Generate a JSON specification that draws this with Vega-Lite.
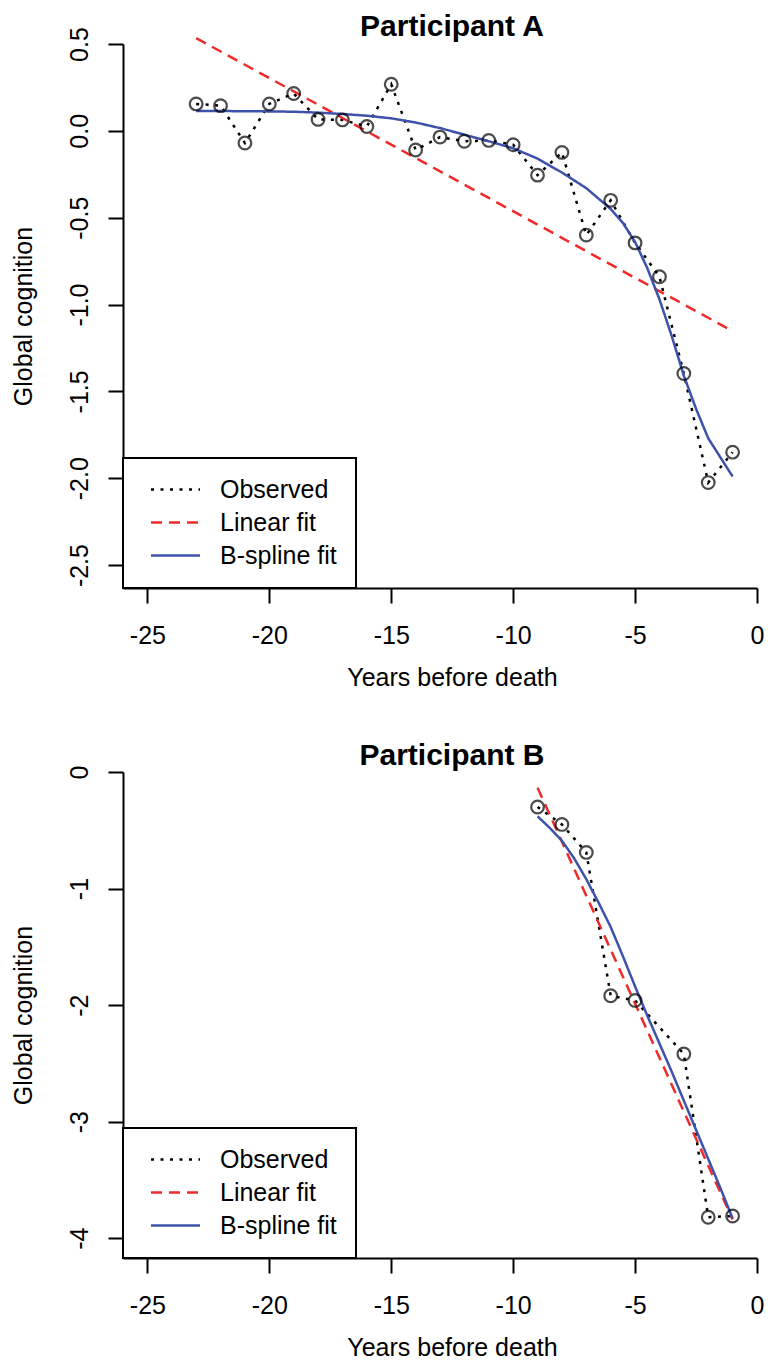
{
  "$schema": "https://vega.github.io/schema/vega-lite/v6.json",
  "background": "white",
  "padding": {"left": 11, "top": 11, "right": 0, "bottom": 0},
  "config": {
    "font": "Liberation Sans",
    "view": {"stroke": null},
    "axis": {
      "domainColor": "black", "domainWidth": 2, "tickColor": "black", "tickWidth": 2, "tickSize": 15,
      "labelFontSize": 25, "titleFontSize": 25, "labelColor": "black", "titleColor": "black",
      "titleFontWeight": "normal", "grid": false, "labelFont": "Liberation Sans", "titleFont": "Liberation Sans",
      "labelOverlap": false, "labelFlush": false
    },
    "title": {"fontSize": 30, "font": "Liberation Sans", "fontWeight": "bold", "color": "black", "baseline": "alphabetic", "anchor": "middle", "frame": "group"},
    "legend": {
      "orient": "bottom-left", "offset": 0, "padding": 19, "rowPadding": 7,
      "strokeColor": "black", "strokeWidth": 2, "fillColor": "white",
      "symbolType": "M-4,0H4", "symbolSize": 150, "symbolStrokeWidth": 2.5, "symbolOffset": 21,
      "labelFontSize": 25, "labelFont": "Liberation Sans", "labelColor": "black", "labelOffset": 32,
      "labelBaseline": "middle", "titleFontSize": 0
    }
  },
  "datasets": {
    "A": [
      {"series": "Observed", "year": -23, "value": 0.155},
      {"series": "Observed", "year": -22, "value": 0.145},
      {"series": "Observed", "year": -21, "value": -0.07},
      {"series": "Observed", "year": -20, "value": 0.155},
      {"series": "Observed", "year": -19, "value": 0.215},
      {"series": "Observed", "year": -18, "value": 0.066},
      {"series": "Observed", "year": -17, "value": 0.063},
      {"series": "Observed", "year": -16, "value": 0.025},
      {"series": "Observed", "year": -15, "value": 0.268},
      {"series": "Observed", "year": -14, "value": -0.11},
      {"series": "Observed", "year": -13, "value": -0.036},
      {"series": "Observed", "year": -12, "value": -0.06},
      {"series": "Observed", "year": -11, "value": -0.055},
      {"series": "Observed", "year": -10, "value": -0.08},
      {"series": "Observed", "year": -9, "value": -0.255},
      {"series": "Observed", "year": -8, "value": -0.124},
      {"series": "Observed", "year": -7, "value": -0.6},
      {"series": "Observed", "year": -6, "value": -0.4},
      {"series": "Observed", "year": -5, "value": -0.645},
      {"series": "Observed", "year": -4, "value": -0.84},
      {"series": "Observed", "year": -3, "value": -1.397},
      {"series": "Observed", "year": -2, "value": -2.025},
      {"series": "Observed", "year": -1, "value": -1.85},
      {"series": "Linear fit", "year": -23, "value": 0.534},
      {"series": "Linear fit", "year": -1, "value": -1.153},
      {"series": "B-spline fit", "year": -23, "value": 0.114},
      {"series": "B-spline fit", "year": -22, "value": 0.114},
      {"series": "B-spline fit", "year": -21, "value": 0.113},
      {"series": "B-spline fit", "year": -20, "value": 0.112},
      {"series": "B-spline fit", "year": -19, "value": 0.11},
      {"series": "B-spline fit", "year": -18, "value": 0.105},
      {"series": "B-spline fit", "year": -17, "value": 0.097},
      {"series": "B-spline fit", "year": -16, "value": 0.087},
      {"series": "B-spline fit", "year": -15, "value": 0.072},
      {"series": "B-spline fit", "year": -14, "value": 0.048},
      {"series": "B-spline fit", "year": -13, "value": 0.016},
      {"series": "B-spline fit", "year": -12, "value": -0.022},
      {"series": "B-spline fit", "year": -11, "value": -0.06},
      {"series": "B-spline fit", "year": -10, "value": -0.1},
      {"series": "B-spline fit", "year": -9, "value": -0.16},
      {"series": "B-spline fit", "year": -8, "value": -0.24},
      {"series": "B-spline fit", "year": -7, "value": -0.33},
      {"series": "B-spline fit", "year": -6, "value": -0.45},
      {"series": "B-spline fit", "year": -5.5, "value": -0.53},
      {"series": "B-spline fit", "year": -5, "value": -0.64},
      {"series": "B-spline fit", "year": -4.5, "value": -0.79},
      {"series": "B-spline fit", "year": -4, "value": -0.97},
      {"series": "B-spline fit", "year": -3.5, "value": -1.18},
      {"series": "B-spline fit", "year": -3, "value": -1.41},
      {"series": "B-spline fit", "year": -2.5, "value": -1.6},
      {"series": "B-spline fit", "year": -2, "value": -1.77},
      {"series": "B-spline fit", "year": -1.5, "value": -1.88},
      {"series": "B-spline fit", "year": -1, "value": -1.99}
    ],
    "B": [
      {"series": "Observed", "year": -9, "value": -0.3},
      {"series": "Observed", "year": -8, "value": -0.45},
      {"series": "Observed", "year": -7, "value": -0.69},
      {"series": "Observed", "year": -6, "value": -1.92},
      {"series": "Observed", "year": -5, "value": -1.96},
      {"series": "Observed", "year": -3, "value": -2.42},
      {"series": "Observed", "year": -2, "value": -3.82},
      {"series": "Observed", "year": -1, "value": -3.81},
      {"series": "Linear fit", "year": -9, "value": -0.135},
      {"series": "Linear fit", "year": -1, "value": -3.84},
      {"series": "B-spline fit", "year": -9, "value": -0.38},
      {"series": "B-spline fit", "year": -8.5, "value": -0.48},
      {"series": "B-spline fit", "year": -8, "value": -0.59},
      {"series": "B-spline fit", "year": -7.5, "value": -0.74},
      {"series": "B-spline fit", "year": -7, "value": -0.92},
      {"series": "B-spline fit", "year": -6.5, "value": -1.12},
      {"series": "B-spline fit", "year": -6, "value": -1.33},
      {"series": "B-spline fit", "year": -5.5, "value": -1.58},
      {"series": "B-spline fit", "year": -5, "value": -1.84},
      {"series": "B-spline fit", "year": -4.5, "value": -2.09},
      {"series": "B-spline fit", "year": -4, "value": -2.33},
      {"series": "B-spline fit", "year": -3.5, "value": -2.57},
      {"series": "B-spline fit", "year": -3, "value": -2.82},
      {"series": "B-spline fit", "year": -2.5, "value": -3.07},
      {"series": "B-spline fit", "year": -2, "value": -3.32},
      {"series": "B-spline fit", "year": -1.5, "value": -3.57},
      {"series": "B-spline fit", "year": -1, "value": -3.83}
    ]
  },
  "bounds": "flush",
  "spacing": 184,
  "resolve": {
    "scale": {"x": "independent", "y": "independent", "color": "independent", "strokeDash": "independent"},
    "legend": {"color": "independent", "strokeDash": "independent"}
  },
  "vconcat": [
    {
      "width": 634,
      "height": 544,
      "title": {"text": "Participant A", "offset": 9, "dx": 12, "dy": 24},
      "data": {"name": "A"},
      "layer": [
        {
          "mark": {"type": "line", "strokeWidth": 2.5, "strokeCap": "butt"},
          "encoding": {
            "x": {"field": "year", "type": "quantitative",
              "scale": {"domain": [-26, 0], "nice": false, "zero": false},
              "axis": {"values": [-25, -20, -15, -10, -5, 0],
                "labelExpr": "datum.value < 0 ? '-' + format(-datum.value, 'd') : format(datum.value, 'd')",
                "labelBaseline": "alphabetic", "labelPadding": 40,
                "title": "Years before death", "titleX": 329, "titleY": 97, "titleBaseline": "alphabetic", "titleAlign": "center", "titleAngle": 0}},
            "y": {"field": "value", "type": "quantitative",
              "scale": {"domain": [-2.632, 0.5], "nice": false, "zero": false},
              "axis": {"values": [0.5, 0, -0.5, -1, -1.5, -2, -2.5],
                "labelExpr": "datum.value < 0 ? '-' + format(-datum.value, '.1f') : format(datum.value, '.1f')",
                "labelAngle": -90, "labelAlign": "center", "labelBaseline": "alphabetic", "labelPadding": 21,
                "title": "Global cognition", "titleX": -92, "titleY": 272, "titleAngle": -90, "titleAlign": "center", "titleBaseline": "alphabetic"}},
            "color": {"field": "series", "type": "nominal",
              "scale": {"domain": ["Observed", "Linear fit", "B-spline fit"], "range": ["#000000", "#ee2a2a", "#3d52ab"]},
              "legend": {"title": null}},
            "strokeDash": {"field": "series", "type": "nominal",
              "scale": {"domain": ["Observed", "Linear fit", "B-spline fit"], "range": [[3, 6.5], [11, 7], [1, 0]]},
              "legend": {"title": null}}
          }
        },
        {
          "transform": [{"filter": "datum.series === 'Observed'"}],
          "mark": {"type": "point", "shape": "circle", "filled": false, "color": "black", "strokeWidth": 2.2, "size": 160},
          "encoding": {
            "x": {"field": "year", "type": "quantitative"},
            "y": {"field": "value", "type": "quantitative"}
          }
        }
      ]
    },
    {
      "width": 634,
      "height": 486,
      "title": {"text": "Participant B", "offset": 5, "dx": 12, "dy": 11},
      "data": {"name": "B"},
      "layer": [
        {
          "mark": {"type": "line", "strokeWidth": 2.5, "strokeCap": "butt"},
          "encoding": {
            "x": {"field": "year", "type": "quantitative",
              "scale": {"domain": [-26, 0], "nice": false, "zero": false},
              "axis": {"values": [-25, -20, -15, -10, -5, 0],
                "labelExpr": "datum.value < 0 ? '-' + format(-datum.value, 'd') : format(datum.value, 'd')",
                "labelBaseline": "alphabetic", "labelPadding": 40,
                "title": "Years before death", "titleX": 329, "titleY": 97, "titleBaseline": "alphabetic", "titleAlign": "center", "titleAngle": 0}},
            "y": {"field": "value", "type": "quantitative",
              "scale": {"domain": [-4.17, 0], "nice": false, "zero": false},
              "axis": {"values": [0, -1, -2, -3, -4],
                "labelExpr": "datum.value < 0 ? '-' + format(-datum.value, 'd') : format(datum.value, 'd')",
                "labelAngle": -90, "labelAlign": "center", "labelBaseline": "alphabetic", "labelPadding": 21,
                "title": "Global cognition", "titleX": -92, "titleY": 243, "titleAngle": -90, "titleAlign": "center", "titleBaseline": "alphabetic"}},
            "color": {"field": "series", "type": "nominal",
              "scale": {"domain": ["Observed", "Linear fit", "B-spline fit"], "range": ["#000000", "#ee2a2a", "#3d52ab"]},
              "legend": {"title": null}},
            "strokeDash": {"field": "series", "type": "nominal",
              "scale": {"domain": ["Observed", "Linear fit", "B-spline fit"], "range": [[3, 6.5], [11, 7], [1, 0]]},
              "legend": {"title": null}}
          }
        },
        {
          "transform": [{"filter": "datum.series === 'Observed'"}],
          "mark": {"type": "point", "shape": "circle", "filled": false, "color": "black", "strokeWidth": 2.2, "size": 160},
          "encoding": {
            "x": {"field": "year", "type": "quantitative"},
            "y": {"field": "value", "type": "quantitative"}
          }
        }
      ]
    }
  ]
}
